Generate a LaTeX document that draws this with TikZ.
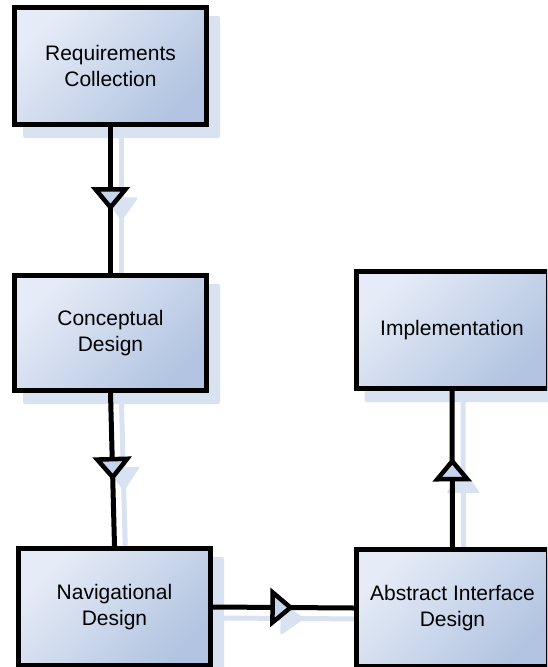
\documentclass[tikz,border=0pt]{standalone}
\usepackage{fontspec}
\setmainfont{Liberation Sans}
\usetikzlibrary{decorations.markings,calc}
\pgfdeclarelayer{background}
\pgfsetlayers{background,main}
\definecolor{boxlight}{HTML}{E6ECF7}
\definecolor{boxdark}{HTML}{B2C4E1}
\definecolor{shadowblue}{HTML}{D8E2F1}
\definecolor{tipfill}{HTML}{C6D5EC}

\tikzset{
  stage/.style={draw=black, line width=5pt, minimum width=192pt, minimum height=117pt,
    inner sep=2pt, align=center, font=\fontsize{21}{26}\selectfont,
    top color=boxlight, bottom color=boxdark, shading angle=45},
  stageshadow/.style={fill=shadowblue, rounded corners=2pt},
  % open triangle head halfway along a connector
  flow/.style={draw=black, line width=5pt, postaction={decorate},
    decoration={markings, mark=at position 0.55 with
      {\filldraw[fill=tipfill, draw=black, line width=4.5pt, line join=miter]
         (0,0) -- (-18,15) -- (-18,-15) -- cycle;}}},
  flowshadow/.style={draw=shadowblue, line width=5pt, line cap=round,
    transform canvas={shift={(11pt,-11pt)}}, postaction={decorate},
    decoration={markings, mark=at position 0.55 with
      {\fill[shadowblue, rounded corners=2pt]
         (3,0) -- (-21,17) -- (-21,-17) -- cycle;}}}
}

\begin{document}
\begin{tikzpicture}[x=1pt, y=-1pt]
  \useasboundingbox (0,0) rectangle (547,667);
  \clip (0,0) rectangle (547,667);

  % process stages
  \node[stage] (req) at (110.5,66)  {Requirements\\Collection};
  \node[stage, minimum height=115pt] (con) at (110.5,333) {Conceptual\\Design};
  \node[stage] (nav) at (114.5,607) {Navigational\\Design};
  \node[stage] (abs) at (452.5,608) {Abstract Interface\\Design};
  \node[stage] (imp) at (452,330)   {Implementation};

  % connectors between stages
  \draw[flow] (req.south) -- (con.north);
  \draw[flow] (con.south) -- (nav.north);
  \draw[flow] (nav.east) -- (abs.west);
  \draw[flow] (abs.north) -- (imp.south);

  % drop shadows
  \begin{pgfonlayer}{background}
    \foreach \n in {req,con,nav,abs,imp}
      \fill[stageshadow] ($(\n.south west)+(11,11)$) rectangle ($(\n.north east)+(11,11)$);
    \draw[flowshadow] (req.south) -- (con.north);
    \draw[flowshadow] (con.south) -- (nav.north);
    \draw[flowshadow] (nav.east) -- (abs.west);
    \draw[flowshadow] (abs.north) -- (imp.south);
  \end{pgfonlayer}
\end{tikzpicture}
\end{document}
